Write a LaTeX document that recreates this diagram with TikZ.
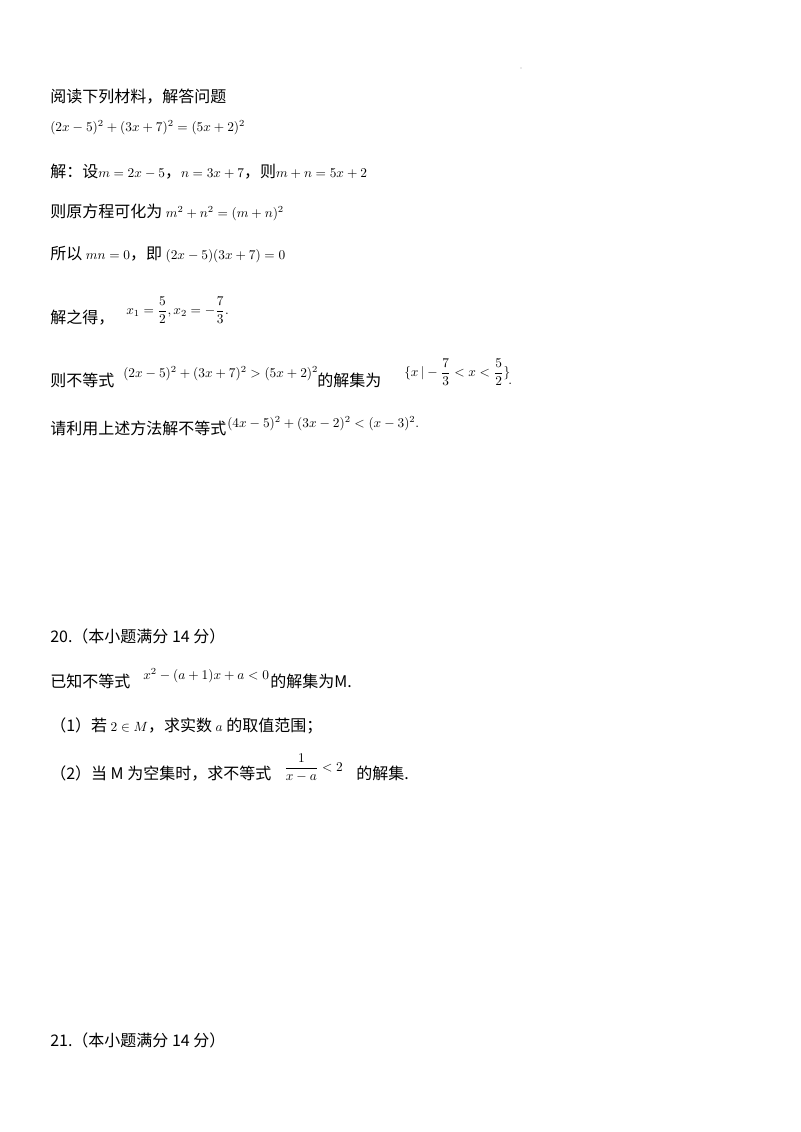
\documentclass[tikz,border=0pt]{standalone}
\usepackage{fontspec}
\usepackage{amsmath}
\newfontfamily\cjk{Noto Sans CJK SC}
\newcommand{\sm}[1]{{\fontsize{10}{12}\selectfont$#1$}}
\begin{document}
\begin{tikzpicture}[x=0.75pt,y=-0.75pt,
  t/.style={anchor=west,inner sep=0pt,font=\cjk\fontsize{12}{14}\selectfont},
  m/.style={anchor=west,inner sep=0pt,font=\fontsize{10}{12}\selectfont}]
\useasboundingbox[fill=white] (0,0) rectangle (800,1132);
\fill (521,68) circle (0.4);
\node[t] (l1) at (50,97) {阅读下列材料，解答问题};
\node[m] (l2) at (50,128) {$(2x-5)^2+(3x+7)^2=(5x+2)^2$};
\node[t] (l3) at (50,172) {解：设\sm{m=2x-5}，\sm{n=3x+7}，则\sm{m+n=5x+2}};
\node[t] (l4) at (50,212) {则原方程可化为 \sm{m^2+n^2=(m+n)^2}};
\node[t] (l5) at (50,255) {所以 \sm{mn=0}，即 \sm{(2x-5)(3x+7)=0}};
\node[t] (l6) at (50,318) {解之得，};
\node[m] (l6m) at (126,310) {$x_1=\dfrac{5}{2},x_2=-\dfrac{7}{3}.$};
\node[t] (l7) at (50,380) {则不等式};
\node[m] (l7m) at (123,374) {$(2x-5)^2+(3x+7)^2>(5x+2)^2$};
\node[t] (l7b) at (317,380) {的解集为};
\node[m] (l7c) at (404,372) {$\{x\,|-\dfrac{7}{3}<x<\dfrac{5}{2}\}$};
\node[m] at (508,384) {.};
\node[t] (l8) at (50,428) {请利用上述方法解不等式};
\node[m] (l8m) at (227,424) {$(4x-5)^2+(3x-2)^2<(x-3)^2.$};
\node[t] (q20) at (50,636) {20.（本小题满分 14 分）};
\node[t] (q20a) at (50,681) {已知不等式};
\node[m] (q20am) at (143,676) {$x^2-(a+1)x+a<0$};
\node[t] (q20ab) at (270,681) {的解集为M.};
\node[t] (q20b) at (50,726) {（1）若 \sm{2\in M}，求实数 \sm{a} 的取值范围；};
\node[t] (q20c) at (50,773) {（2）当 M 为空集时，求不等式};
\node[m] (q20cm) at (284,768) {$\dfrac{1}{x-a}<2$};
\node[t] (q20cb) at (356,773) {的解集.};
\node[t] (q21) at (50,1040) {21.（本小题满分 14 分）};
\end{tikzpicture}
\end{document}
